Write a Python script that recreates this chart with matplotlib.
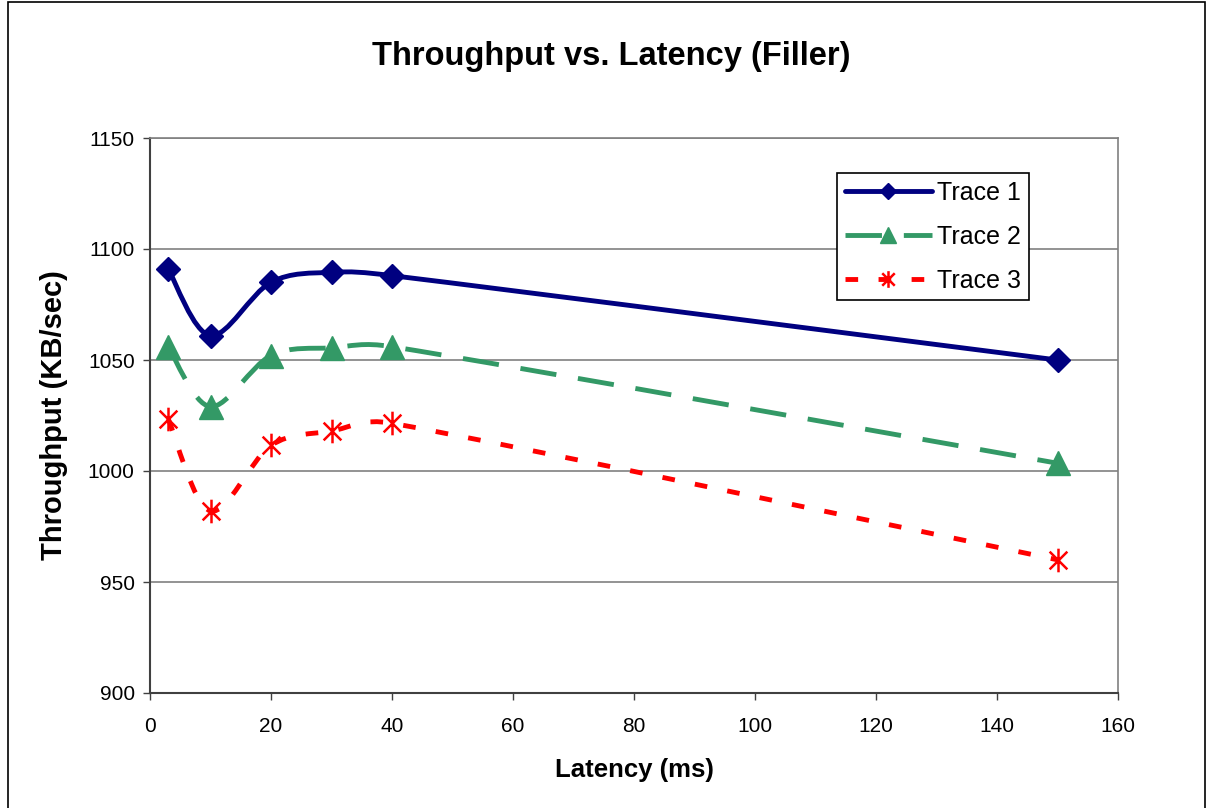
import numpy as np
import matplotlib.pyplot as plt
from matplotlib.path import Path
from matplotlib.patches import PathPatch, Rectangle
from matplotlib.lines import Line2D

plt.rcParams['font.family'] = ['Liberation Sans', 'DejaVu Sans']

latency = [3, 10, 20, 30, 40, 150]
trace1 = [1091, 1061, 1085, 1089.5, 1088, 1050]
trace2 = [1056, 1029, 1052, 1055.5, 1056, 1003.5]
trace3 = [1023.5, 982, 1011.5, 1018, 1021.5, 960]
names = ["Trace 1", "Trace 2", "Trace 3"]


def smooth_path(ax, xs, ys):
    # bezier smoothing done in pixel space, control arms capped at half a segment
    p = ax.transData.transform(np.column_stack([xs, ys]))
    ext = np.vstack([p[0], p, p[-1]])
    verts = [p[0]]
    codes = [Path.MOVETO]
    for i in range(len(p) - 1):
        a, b, c, d = ext[i], ext[i + 1], ext[i + 2], ext[i + 3]
        seg = np.hypot(*(c - b))
        t1, t2 = c - a, d - b
        f1 = min(1 / 6, seg / (2 * max(np.hypot(*t1), 1e-9)))
        f2 = min(1 / 6, seg / (2 * max(np.hypot(*t2), 1e-9)))
        verts += [b + f1 * t1, c - f2 * t2, c]
        codes += [Path.CURVE4] * 3
    verts = ax.transData.inverted().transform(np.array(verts))
    return Path(verts, codes)


# asterisk marker: vertical stroke plus an X
star = Path([(0, -1), (0, 1), (-0.75, -0.75), (0.75, 0.75), (-0.75, 0.75), (0.75, -0.75)],
            [Path.MOVETO, Path.LINETO, Path.MOVETO, Path.LINETO, Path.MOVETO, Path.LINETO])

styles = [
    dict(color='#000080', ls='-', marker='D', ms=12, lms=7.8, cap='round'),
    dict(color='#339966', ls=(0, (7.5, 4.5)), marker='^', ms=17, lms=11, cap='butt'),
    dict(color='#FF0000', ls=(0, (2.6, 4.2)), marker=star, ms=17, lms=12, cap='butt'),
]

fig = plt.figure(figsize=(12.09, 8.08), dpi=100)
ax = fig.add_axes([150 / 1209, 1 - 693 / 808, 968 / 1209, 555 / 808])
ax.set_xlim(0, 160)
ax.set_ylim(900, 1150)

handles = []
for ys, st, name in zip([trace1, trace2, trace3], styles, names):
    patch = PathPatch(smooth_path(ax, latency, ys), fill=False, edgecolor=st['color'],
                      lw=3.5, linestyle=st['ls'], capstyle=st['cap'], joinstyle='round', zorder=3)
    ax.add_patch(patch)
    mew = 1.8 if st['marker'] is star else 1
    ax.plot(latency, ys, linestyle='none', marker=st['marker'], ms=st['ms'],
            color=st['color'], mec=st['color'], mew=mew, zorder=4)
    handles.append(Line2D([], [], color=st['color'], lw=3.5, linestyle=st['ls'],
                          dash_capstyle=st['cap'], solid_capstyle='round',
                          marker=st['marker'], ms=st['lms'], mew=mew, label=name))

ax.set_xticks(np.arange(0, 161, 20))
ax.set_yticks(np.arange(900, 1151, 50))
ax.yaxis.grid(True, color='#808080', lw=1.2)
ax.set_axisbelow(True)
for s in ['top', 'right']:
    ax.spines[s].set_color('#808080')
    ax.spines[s].set_linewidth(1.2)
for s in ['left', 'bottom']:
    ax.spines[s].set_color('#404040')
    ax.spines[s].set_linewidth(1.5)
ax.tick_params(direction='out', length=5, width=1, color='#404040', labelsize=15)
ax.tick_params(axis='x', pad=12)
ax.tick_params(axis='y', pad=6)

ax.set_xlabel("Latency (ms)", fontsize=18.5, fontweight='bold', labelpad=16)
ax.set_ylabel("Throughput (KB/sec)", fontsize=21, fontweight='bold', labelpad=14)
fig.text(611 / 1209, 1 - 57 / 808, "Throughput vs. Latency (Filler)", ha='center', va='center',
         fontsize=23.5, fontweight='bold')

leg = ax.legend(handles=handles, loc='upper left', bbox_to_anchor=(687 / 968, 1 - 35 / 555),
                fontsize=18, frameon=True, fancybox=False, edgecolor='black', framealpha=1,
                handlelength=3.5, handletextpad=0.2, borderpad=0.3, labelspacing=0.8,
                borderaxespad=0)
leg.get_frame().set_linewidth(1.2)

fig.add_artist(Rectangle((8 / 1209, -0.01), 1197 / 1209, 1.01 - 2 / 808, transform=fig.transFigure,
                         fill=False, edgecolor='black', lw=1.2))

fig.savefig("out.png", dpi=100)
